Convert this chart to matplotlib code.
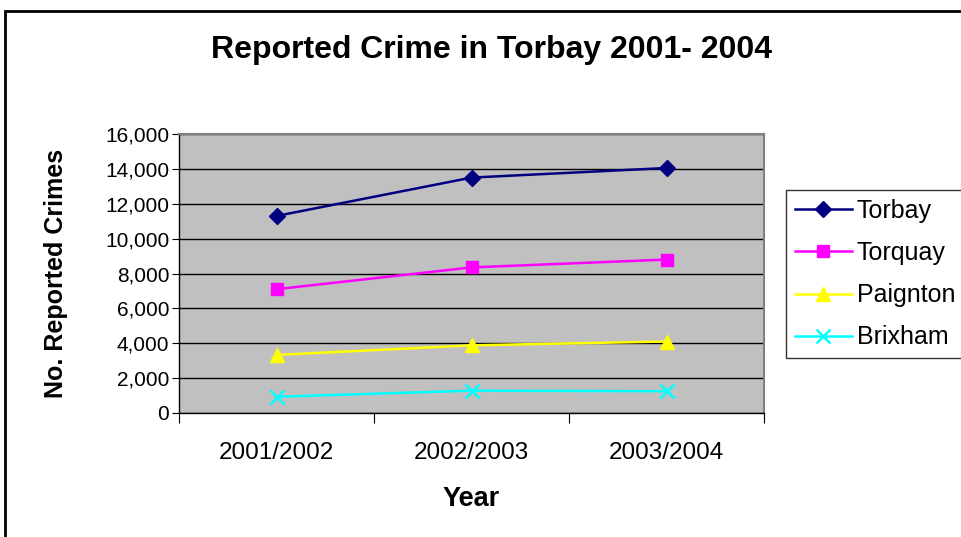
import matplotlib.pyplot as plt
from matplotlib.patches import Rectangle

plt.rcParams['font.family'] = ['Liberation Sans', 'DejaVu Sans']

years = ['2001/2002', '2002/2003', '2003/2004']
torbay = [11300, 13500, 14050]
torquay = [7100, 8350, 8800]
paignton = [3330, 3880, 4100]
brixham = [930, 1280, 1250]

series = [
    ('Torbay', torbay, '#000080', 'D', 8),
    ('Torquay', torquay, '#FF00FF', 's', 9),
    ('Paignton', paignton, '#FFFF00', '^', 10),
    ('Brixham', brixham, '#00FFFF', 'x', 10),
]

fig = plt.figure(figsize=(9.62, 5.37), dpi=100)

# outer chart frame (runs off the right and bottom edges)
fig.patches.append(Rectangle((5 / 962, -0.05), 1.1, (537 - 11) / 537 + 0.05,
                             transform=fig.transFigure, fill=False,
                             edgecolor='black', linewidth=2))

ax = fig.add_axes([179 / 962, (537 - 413) / 537, (764 - 179) / 962, (413 - 134) / 537])
ax.set_facecolor('#C0C0C0')

xs = [0.5, 1.5, 2.5]
for name, vals, color, marker, ms in series:
    ax.plot(xs, vals, color=color, marker=marker, markersize=ms, linewidth=1.8,
            markeredgewidth=1.8 if marker == 'x' else 1, label=name, zorder=3)

ax.set_xlim(0, 3)
ax.set_ylim(0, 16000)
ax.set_yticks(range(0, 16001, 2000))
ax.set_yticklabels([f'{v:,}' for v in range(0, 16001, 2000)], fontsize=15)
ax.set_xticks([0, 1, 2, 3])
ax.set_xticklabels([])
ax.set_xticks(xs, minor=True)
ax.set_xticklabels(years, minor=True, fontsize=17.5)
ax.tick_params(axis='x', which='minor', length=0, pad=21)
ax.tick_params(axis='x', which='major', length=7, direction='out', color='black')
ax.tick_params(axis='y', length=5, direction='out', pad=2)
ax.grid(axis='y', color='black', linewidth=1)
ax.set_axisbelow(True)

for side in ['top', 'right']:
    ax.spines[side].set_color('#808080')
    ax.spines[side].set_linewidth(1.5)
for side in ['left', 'bottom']:
    ax.spines[side].set_color('black')
    ax.spines[side].set_linewidth(1)

ax.set_ylabel('No. Reported Crimes', fontsize=18, fontweight='bold')
ax.yaxis.set_label_coords((68 - 179) / 585, 0.5)
ax.set_xlabel('Year', fontsize=19.5, fontweight='bold')
ax.xaxis.set_label_coords(0.5, -(486 - 413) / 279)
fig.text(492 / 962, 1 - 50 / 537, 'Reported Crime in Torbay 2001- 2004',
         ha='center', va='center', fontsize=23, fontweight='bold')

leg = fig.legend(loc='upper left', bbox_to_anchor=(786 / 962, 1 - 190 / 537),
                 fontsize=18, frameon=True, fancybox=False, edgecolor='black',
                 borderpad=0.35, labelspacing=0.73, handlelength=2.3,
                 handletextpad=0.18, borderaxespad=0)
leg.get_frame().set_linewidth(1)

fig.savefig('out.png', dpi=100)
